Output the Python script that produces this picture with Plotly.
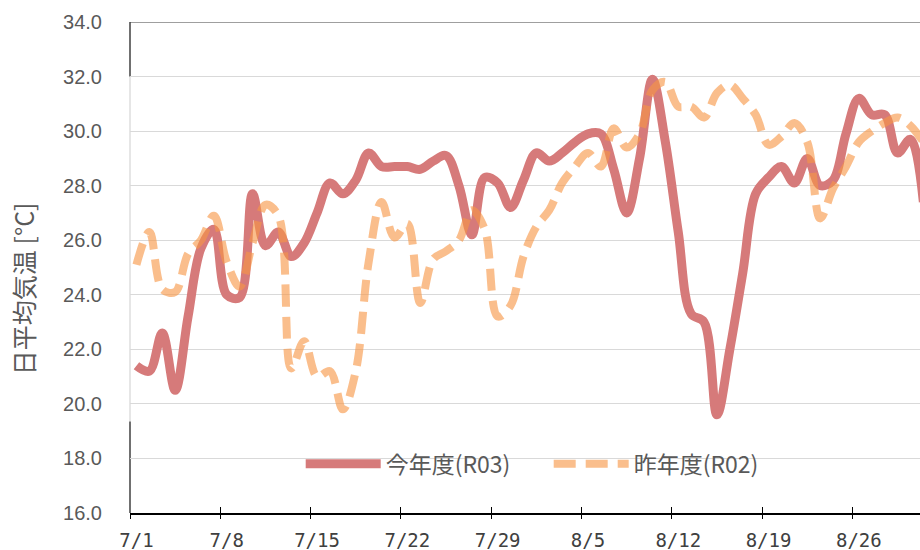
import plotly.graph_objects as go

# ---- data ----
dates = [f"7/{d}" for d in range(1, 32)] + [f"8/{d}" for d in range(1, 32)]

this_year = [21.4, 21.2, 22.6, 20.5, 23.2, 25.7, 26.4, 24.0, 23.9, 27.7,
             25.8, 26.3, 25.4, 25.9, 27.0, 28.1, 27.7, 28.2, 29.2, 28.7,
             28.7, 28.7, 28.6, 28.9, 29.1, 28.0, 26.2, 28.3, 28.1, 27.2,
             28.2, 29.2, 28.9, 29.2, 29.6, 29.9, 29.9, 28.6, 27.0, 29.0,
             31.9, 29.6, 26.3, 23.3, 23.0, 19.6, 22.0, 24.8, 27.7, 28.3,
             28.7, 28.1, 29.0, 28.0, 28.2, 29.9, 31.2, 30.6, 30.6, 29.2,
             29.7, 27.4]

last_year = [25.1, 26.3, 24.2, 24.1, 25.5, 26.0, 26.9, 25.2, 24.3, 25.9,
             27.3, 26.9, 21.3, 22.3, 21.0, 21.2, 19.8, 21.2, 25.2, 27.4,
             26.1, 26.6, 23.7, 25.3, 25.6, 26.0, 27.1, 26.4, 23.2, 23.6,
             25.4, 26.5, 27.1, 28.1, 28.7, 29.2, 28.7, 30.1, 29.4, 29.9,
             31.5, 31.8, 30.9, 30.9, 30.5, 31.4, 31.7, 31.2, 30.6, 29.5,
             29.8, 30.3, 29.6, 26.8, 27.9, 28.7, 29.6, 30.0, 30.3, 30.5,
             30.2, 29.6]

series_names = ["今年度(R03)", "昨年度(R02)"]
tick_labels = dates[::7]
y_title = "日平均気温 [°C]"

# ---- figure ----
x_range = [-0.5, 60.74]
boundary_ticks = [i * 7 - 0.5 for i in range(10)]

fig = go.Figure()
fig.add_trace(go.Scatter(
    x=dates, y=this_year, name=series_names[0], mode="lines",
    line=dict(color="#D67A7A", width=9, shape="spline", smoothing=1.0),
))
fig.add_trace(go.Scatter(
    x=dates, y=last_year, name=series_names[1], mode="lines",
    line=dict(color="rgba(247,150,70,0.62)", width=8, shape="spline",
              smoothing=1.0, dash="22px,10px"),
))
# helper (empty) traces so the tick-mark overlay axes exist
fig.add_trace(go.Scatter(x=[], y=[], xaxis="x2", showlegend=False, hoverinfo="skip"))
fig.add_trace(go.Scatter(x=[], y=[], xaxis="x3", showlegend=False, hoverinfo="skip"))

fig.update_layout(
    width=920, height=550,
    margin=dict(l=130, r=0, t=22, b=37),
    paper_bgcolor="white", plot_bgcolor="white",
    font=dict(family="Noto Sans CJK JP", color="#595959"),
    xaxis=dict(
        type="category", range=x_range,
        tickvals=tick_labels, ticktext=tick_labels,
        ticks="", showgrid=False, zeroline=False,
        showline=True, linecolor="black", linewidth=1.5,
        tickfont=dict(family="DejaVu Sans Mono", size=19, color="#404040"),
        ticklabelstandoff=9,
    ),
    xaxis2=dict(
        overlaying="x", anchor="y", type="linear", range=x_range,
        tickvals=boundary_ticks, ticks="outside", ticklen=5, tickwidth=1.2,
        tickcolor="black", showticklabels=False, showgrid=False,
        zeroline=False, showline=False,
    ),
    xaxis3=dict(
        overlaying="x", anchor="y", type="linear", range=x_range,
        tickvals=boundary_ticks, ticks="inside", ticklen=6, tickwidth=1.2,
        tickcolor="black", showticklabels=False, showgrid=False,
        zeroline=False, showline=False,
    ),
    yaxis=dict(
        range=[16, 34], dtick=2, tickformat=".1f",
        showgrid=True, gridcolor="#d9d9d9", gridwidth=1.3,
        zeroline=False, showline=False, ticks="",
        tickfont=dict(family="Liberation Sans", size=20, color="#595959"),
        ticklabelstandoff=27,
    ),
    legend=dict(
        orientation="h", x=0.53, xanchor="center", y=0.1, yanchor="middle",
        bgcolor="rgba(0,0,0,0)", itemwidth=75,
        entrywidth=158, entrywidthmode="pixels",
        font=dict(family="Noto Sans CJK JP", size=23, color="#595959"),
        traceorder="normal",
    ),
    shapes=[
        dict(type="line", xref="paper", yref="y", x0=0, x1=1, y0=34, y1=34,
             line=dict(color="#7f7f7f", width=1.5), layer="below"),
        dict(type="line", xref="paper", yref="y", x0=0, x1=0, y0=19.35, y1=32,
             line=dict(color="#d9d9d9", width=1.3), layer="below"),
        dict(type="line", xref="paper", yref="y", x0=0, x1=0, y0=32, y1=34,
             line=dict(color="#404040", width=1.5), layer="below"),
        dict(type="line", xref="paper", yref="y", x0=0, x1=0, y0=16, y1=19.35,
             line=dict(color="#404040", width=1.5), layer="below"),
    ],
    annotations=[
        dict(text=y_title, textangle=-90, xref="paper", yref="paper",
             x=-0.1354, y=0.456, xanchor="center", yanchor="middle",
             showarrow=False,
             font=dict(family="Noto Sans CJK JP", size=25, color="#595959")),
    ],
    showlegend=True,
)

fig.write_html("out.html")
